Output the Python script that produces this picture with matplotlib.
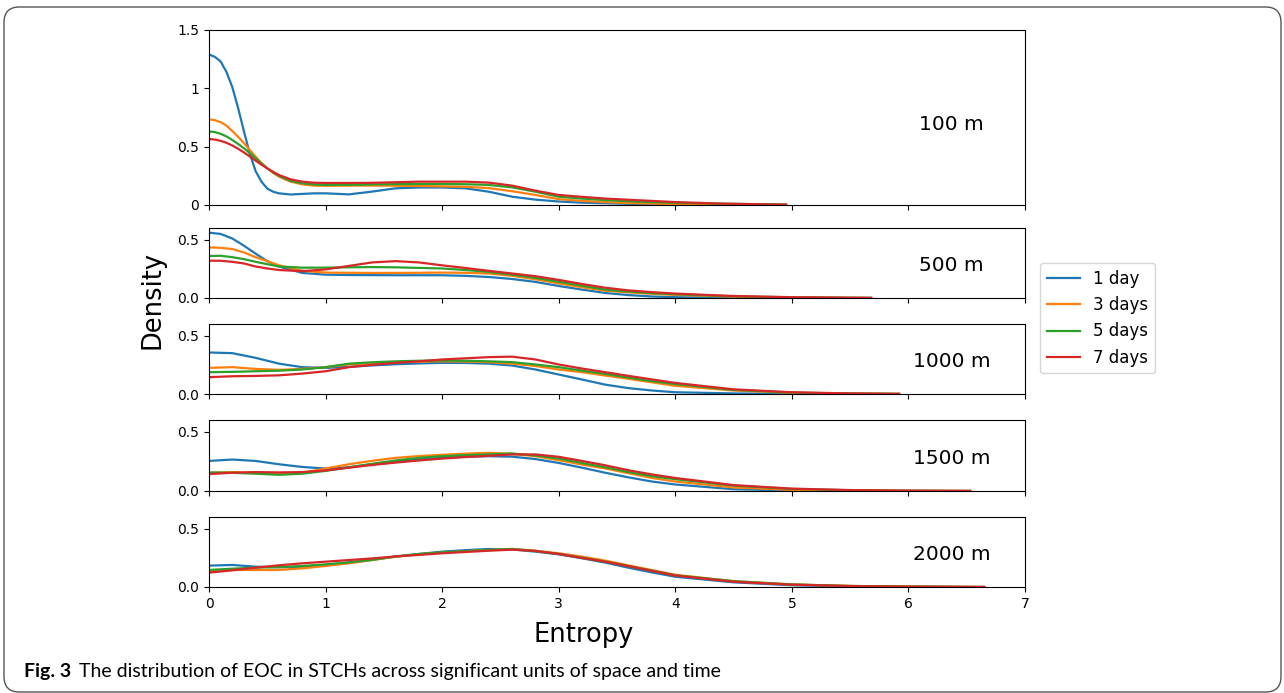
import matplotlib
matplotlib.use("Agg")
import matplotlib.pyplot as plt
from matplotlib.patches import FancyBboxPatch

# KDE curves, one panel per spatial unit
labels = ["1 day", "3 days", "5 days", "7 days"]
colors = ["#1f77b4", "#ff7f0e", "#2ca02c", "#d62728"]
units = ["100 m", "500 m", "1000 m", "1500 m", "2000 m"]

x_100 = [0, 0.05, 0.1, 0.15, 0.2, 0.25, 0.3, 0.35, 0.4, 0.45, 0.5, 0.55, 0.6, 0.7, 0.8, 0.9, 1.0,
         1.2, 1.4, 1.6, 1.8, 2.0, 2.2, 2.4, 2.6, 2.8, 3.0, 3.2, 3.4, 3.6, 3.8, 4.0, 4.4, 4.8, 4.95]
d1_100 = [1.29, 1.27, 1.23, 1.14, 1.01, 0.83, 0.63, 0.44, 0.29, 0.2, 0.14, 0.114, 0.10, 0.09, 0.095, 0.10, 0.10,
          0.091, 0.115, 0.143, 0.15, 0.15, 0.143, 0.114, 0.071, 0.046, 0.03, 0.02, 0.015, 0.01, 0.007, 0.005,
          0.002, 0.001, 0.0]
d3_100 = [0.734, 0.727, 0.71, 0.68, 0.634, 0.585, 0.53, 0.47, 0.414, 0.36, 0.314, 0.275, 0.243, 0.2, 0.177,
          0.166, 0.165, 0.166, 0.167, 0.165, 0.163, 0.16, 0.156, 0.145, 0.118, 0.086, 0.05, 0.035, 0.025, 0.017,
          0.012, 0.008, 0.004, 0.002, 0.001]
d5_100 = [0.63, 0.625, 0.61, 0.588, 0.557, 0.523, 0.486, 0.444, 0.4, 0.356, 0.314, 0.28, 0.25, 0.206, 0.186,
          0.177, 0.171, 0.173, 0.176, 0.179, 0.18, 0.18, 0.178, 0.172, 0.151, 0.114, 0.071, 0.055, 0.042, 0.032,
          0.025, 0.019, 0.011, 0.006, 0.004]
d7_100 = [0.566, 0.561, 0.55, 0.533, 0.51, 0.482, 0.45, 0.416, 0.38, 0.346, 0.314, 0.284, 0.257, 0.22, 0.2,
          0.191, 0.189, 0.189, 0.19, 0.195, 0.2, 0.2, 0.2, 0.192, 0.166, 0.123, 0.086, 0.07, 0.055, 0.045, 0.035,
          0.025, 0.012, 0.005, 0.003]

x_500 = [0, 0.1, 0.2, 0.3, 0.4, 0.5, 0.6, 0.8, 1.0, 1.2, 1.4, 1.6, 1.8, 2.0, 2.2, 2.4, 2.6, 2.8,
         3.0, 3.2, 3.4, 3.6, 3.8, 4.0, 4.5, 5.0, 5.5, 5.68]
d1_500 = [0.56, 0.549, 0.51, 0.448, 0.38, 0.316, 0.27, 0.215, 0.2, 0.197, 0.196, 0.195, 0.195, 0.195, 0.19,
          0.18, 0.163, 0.138, 0.103, 0.072, 0.043, 0.025, 0.013, 0.007, 0.002, 0.001, 0.0, 0.0]
d3_500 = [0.434, 0.43, 0.42, 0.39, 0.35, 0.316, 0.28, 0.233, 0.218, 0.216, 0.215, 0.215, 0.216, 0.218, 0.216,
          0.21, 0.19, 0.16, 0.125, 0.092, 0.062, 0.048, 0.036, 0.027, 0.011, 0.004, 0.001, 0.0]
d5_500 = [0.36, 0.362, 0.35, 0.333, 0.31, 0.29, 0.27, 0.26, 0.26, 0.263, 0.265, 0.263, 0.258, 0.253, 0.24,
          0.224, 0.2, 0.172, 0.14, 0.105, 0.072, 0.055, 0.042, 0.032, 0.014, 0.006, 0.002, 0.001]
d7_500 = [0.32, 0.319, 0.31, 0.296, 0.27, 0.253, 0.24, 0.23, 0.245, 0.275, 0.305, 0.316, 0.305, 0.28, 0.257,
          0.233, 0.21, 0.187, 0.155, 0.12, 0.088, 0.065, 0.05, 0.038, 0.017, 0.007, 0.002, 0.001]

x_1000 = [0, 0.2, 0.4, 0.6, 0.8, 1.0, 1.2, 1.4, 1.6, 1.8, 2.0, 2.2, 2.4, 2.6, 2.8,
          3.0, 3.2, 3.4, 3.6, 3.8, 4.0, 4.5, 5.0, 5.5, 5.92]
d1_1000 = [0.356, 0.35, 0.31, 0.26, 0.23, 0.224, 0.233, 0.245, 0.255, 0.262, 0.267, 0.266, 0.26, 0.244, 0.21,
           0.167, 0.124, 0.08, 0.05, 0.03, 0.015, 0.005, 0.002, 0.001, 0.0]
d3_1000 = [0.224, 0.23, 0.215, 0.207, 0.215, 0.23, 0.253, 0.265, 0.273, 0.278, 0.28, 0.278, 0.273, 0.26, 0.24,
           0.21, 0.187, 0.158, 0.13, 0.1, 0.07, 0.03, 0.01, 0.003, 0.001]
d5_1000 = [0.187, 0.19, 0.195, 0.2, 0.21, 0.23, 0.26, 0.272, 0.28, 0.285, 0.287, 0.285, 0.28, 0.273, 0.253,
           0.23, 0.2, 0.172, 0.14, 0.11, 0.085, 0.035, 0.012, 0.004, 0.001]
d7_1000 = [0.144, 0.152, 0.155, 0.16, 0.175, 0.195, 0.23, 0.25, 0.267, 0.28, 0.296, 0.306, 0.316, 0.32, 0.296,
           0.253, 0.218, 0.187, 0.155, 0.125, 0.095, 0.04, 0.015, 0.005, 0.001]

x_1500 = [0, 0.2, 0.4, 0.6, 0.8, 1.0, 1.2, 1.4, 1.6, 1.8, 2.0, 2.2, 2.4, 2.6, 2.8,
          3.0, 3.2, 3.4, 3.6, 3.8, 4.0, 4.5, 5.0, 5.5, 6.0, 6.53]
d1_1500 = [0.254, 0.266, 0.254, 0.226, 0.203, 0.19, 0.2, 0.226, 0.246, 0.266, 0.28, 0.29, 0.294, 0.29, 0.27,
           0.237, 0.197, 0.154, 0.115, 0.08, 0.055, 0.015, 0.004, 0.001, 0.0, 0.0]
d3_1500 = [0.154, 0.16, 0.154, 0.146, 0.154, 0.19, 0.226, 0.255, 0.28, 0.295, 0.306, 0.316, 0.323, 0.314, 0.294,
           0.26, 0.223, 0.19, 0.15, 0.11, 0.08, 0.03, 0.01, 0.003, 0.001, 0.0]
d5_1500 = [0.157, 0.154, 0.146, 0.137, 0.146, 0.17, 0.2, 0.23, 0.258, 0.28, 0.294, 0.303, 0.31, 0.317, 0.3,
           0.274, 0.237, 0.2, 0.16, 0.125, 0.1, 0.045, 0.018, 0.006, 0.002, 0.0]
d7_1500 = [0.143, 0.154, 0.16, 0.157, 0.16, 0.174, 0.197, 0.22, 0.24, 0.258, 0.274, 0.287, 0.297, 0.309, 0.309,
           0.289, 0.254, 0.217, 0.175, 0.14, 0.11, 0.05, 0.02, 0.008, 0.003, 0.001]

x_2000 = [0, 0.2, 0.4, 0.6, 0.8, 1.0, 1.2, 1.4, 1.6, 1.8, 2.0, 2.2, 2.4, 2.6, 2.8,
          3.0, 3.2, 3.4, 3.6, 3.8, 4.0, 4.5, 5.0, 5.5, 6.0, 6.5, 6.65]
d1_2000 = [0.183, 0.189, 0.174, 0.169, 0.174, 0.189, 0.209, 0.235, 0.26, 0.283, 0.303, 0.316, 0.326, 0.323, 0.303,
           0.28, 0.246, 0.209, 0.165, 0.125, 0.088, 0.04, 0.015, 0.005, 0.002, 0.0, 0.0]
d3_2000 = [0.137, 0.146, 0.146, 0.146, 0.16, 0.18, 0.203, 0.231, 0.26, 0.28, 0.294, 0.307, 0.317, 0.326, 0.311,
           0.289, 0.26, 0.226, 0.185, 0.145, 0.105, 0.05, 0.022, 0.009, 0.003, 0.001, 0.0]
d5_2000 = [0.146, 0.157, 0.166, 0.171, 0.18, 0.194, 0.211, 0.232, 0.262, 0.283, 0.297, 0.308, 0.317, 0.326, 0.309,
           0.283, 0.251, 0.217, 0.178, 0.14, 0.1, 0.05, 0.022, 0.009, 0.003, 0.001, 0.0]
d7_2000 = [0.123, 0.143, 0.166, 0.186, 0.203, 0.217, 0.231, 0.245, 0.262, 0.275, 0.289, 0.3, 0.311, 0.32, 0.309,
           0.283, 0.249, 0.217, 0.178, 0.138, 0.098, 0.045, 0.02, 0.008, 0.003, 0.001, 0.0005]

panels = [
    (x_100, [d1_100, d3_100, d5_100, d7_100]),
    (x_500, [d1_500, d3_500, d5_500, d7_500]),
    (x_1000, [d1_1000, d3_1000, d5_1000, d7_1000]),
    (x_1500, [d1_1500, d3_1500, d5_1500, d7_1500]),
    (x_2000, [d1_2000, d3_2000, d5_2000, d7_2000]),
]

W, H = 1284, 693
fig = plt.figure(figsize=(W / 100, H / 100), dpi=100)

# axes boxes in pixels: (top, bottom)
rows = [(30, 205), (228, 298), (324, 394), (420, 491), (517, 587)]
left, right = 209, 1025

axes = []
for i, (top, bot) in enumerate(rows):
    ax = fig.add_axes([left / W, 1 - bot / H, (right - left) / W, (bot - top) / H])
    xs, ys = panels[i]
    for y, c, lab in zip(ys, colors, labels):
        ax.plot(xs, y, color=c, lw=1.6, label=lab, solid_joinstyle="round")
    ax.set_xlim(0, 7)
    ax.set_xticks(range(8))
    if i == 0:
        ax.set_ylim(0, 1.5)
        ax.set_yticks([0, 0.5, 1, 1.5])
        ax.set_yticklabels(["0", "0.5", "1", "1.5"])
    else:
        ax.set_ylim(0, 0.6)
        ax.set_yticks([0.0, 0.5])
        ax.set_yticklabels(["0.0", "0.5"])
    if i < 4:
        ax.set_xticklabels([])
    ax.tick_params(labelsize=10)
    ax.text(0.91, 0.46, units[i], transform=ax.transAxes, ha="center", va="center", fontsize=14.5)
    axes.append(ax)

fig.legend(*axes[0].get_legend_handles_labels(), loc="upper left",
           bbox_to_anchor=(1040 / W, 1 - 263 / H), borderaxespad=0, fontsize=12)

fig.text(152 / W, 1 - 300 / H, "Density", rotation=90, ha="center", va="center", fontsize=18.5)
fig.text(584 / W, 1 - 635 / H, "Entropy", ha="center", va="center", fontsize=18.5)

# caption and frame of the figure
fig.text(24 / W, 1 - 672 / H, "Fig. 3", fontweight="bold", family="Lato", fontsize=14, va="center")
fig.text(79 / W, 1 - 672 / H, "The distribution of EOC in STCHs across significant units of space and time",
         family="Lato", fontsize=14, va="center")
fig.patches.append(FancyBboxPatch((4 / W, 1 / H), (W - 7) / W, (H - 8) / H,
                                  boxstyle="round,pad=0,rounding_size=0.012", mutation_aspect=W / H,
                                  transform=fig.transFigure, fill=False, ec="#555555", lw=1))

fig.savefig("out.png", dpi=100)
